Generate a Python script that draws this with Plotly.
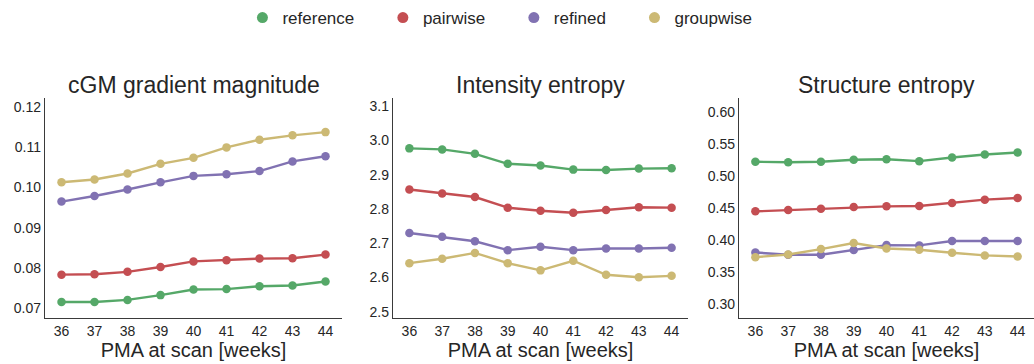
import plotly.graph_objects as go
from plotly.subplots import make_subplots

# PMA at scan (weeks)
weeks = [36, 37, 38, 39, 40, 41, 42, 43, 44]

methods = ["reference", "pairwise", "refined", "groupwise"]
colors = ["#55A868", "#C44E52", "#8172B2", "#CCB974"]

# cGM gradient magnitude
grad_reference = [0.0715, 0.0715, 0.0720, 0.0732, 0.0746, 0.0747, 0.0754, 0.0756, 0.0766]
grad_pairwise = [0.0783, 0.0784, 0.0790, 0.0802, 0.0816, 0.0819, 0.0823, 0.0824, 0.0833]
grad_refined = [0.0965, 0.0979, 0.0995, 0.1013, 0.1029, 0.1033, 0.1041, 0.1065, 0.1078]
grad_groupwise = [0.1013, 0.1020, 0.1035, 0.1059, 0.1074, 0.1100, 0.1119, 0.1130, 0.1138]

# Intensity entropy
int_reference = [2.977, 2.974, 2.961, 2.932, 2.927, 2.915, 2.914, 2.918, 2.919]
int_pairwise = [2.857, 2.845, 2.835, 2.804, 2.795, 2.789, 2.797, 2.805, 2.804]
int_refined = [2.730, 2.719, 2.706, 2.680, 2.690, 2.680, 2.685, 2.685, 2.687]
int_groupwise = [2.642, 2.655, 2.672, 2.642, 2.621, 2.649, 2.608, 2.601, 2.605]

# Structure entropy
str_reference = [0.5228, 0.5222, 0.5228, 0.5259, 0.5269, 0.5238, 0.5295, 0.5342, 0.5374]
str_pairwise = [0.4455, 0.4475, 0.4497, 0.4523, 0.4533, 0.4538, 0.4585, 0.4637, 0.4664]
str_refined = [0.3813, 0.3777, 0.3777, 0.3850, 0.3928, 0.3923, 0.3991, 0.3991, 0.3991]
str_groupwise = [0.3740, 0.3782, 0.3866, 0.3960, 0.3876, 0.3855, 0.3808, 0.3767, 0.3751]

titles = ["cGM gradient magnitude", "Intensity entropy", "Structure entropy"]
panels = [
    [grad_reference, grad_pairwise, grad_refined, grad_groupwise],
    [int_reference, int_pairwise, int_refined, int_groupwise],
    [str_reference, str_pairwise, str_refined, str_groupwise],
]
y_ranges = [[0.0675, 0.1223], [2.482, 3.124], [0.279, 0.6224]]
y_ticks = [
    [0.07, 0.08, 0.09, 0.10, 0.11, 0.12],
    [2.5, 2.6, 2.7, 2.8, 2.9, 3.0, 3.1],
    [0.30, 0.35, 0.40, 0.45, 0.50, 0.55, 0.60],
]
y_formats = [".2f", ".1f", ".2f"]

FONT = "Liberation Sans, Arial, sans-serif"
TXT = "#262626"
PAD = "\u00a0" * 5  # extra room between legend entries

fig = make_subplots(rows=1, cols=3, horizontal_spacing=0.0)

for c, series in enumerate(panels, start=1):
    for name, col, vals in zip(methods, colors, series):
        fig.add_trace(
            go.Scatter(
                x=weeks, y=vals, mode="lines+markers", name=name, legendgroup=name,
                line=dict(color=col, width=2.4),
                marker=dict(color=col, size=8.5),
                showlegend=False,
            ),
            row=1, col=c,
        )

# legend entries: a plain dot per method
for k, (name, col) in enumerate(zip(methods, colors)):
    fig.add_trace(
        go.Scatter(
            x=[None], y=[None], mode="markers", legendgroup=name,
            name=name + (PAD if k < len(methods) - 1 else ""),
            marker=dict(color=col, size=11), showlegend=True,
        ),
        row=1, col=1,
    )

W = 989.0
domains = [[0, 297 / W], [348 / W, 643 / W], [694 / W, 1.0]]

for i in range(3):
    ax = "" if i == 0 else str(i + 1)
    fig.layout["xaxis" + ax].update(
        domain=domains[i], range=[35.5, 44.5], tickmode="array", tickvals=weeks,
        showgrid=False, zeroline=False, showline=True, linecolor="#3a3a3a", linewidth=1.3,
        ticks="", ticklen=0, tickfont=dict(size=14, color=TXT, family=FONT),
        title=dict(text="PMA at scan [weeks]", font=dict(size=20, color=TXT, family=FONT), standoff=4),
    )
    fig.layout["yaxis" + ax].update(
        range=y_ranges[i], tickmode="array", tickvals=y_ticks[i], tickformat=y_formats[i],
        showgrid=False, zeroline=False, showline=True, linecolor="#3a3a3a", linewidth=1.3,
        ticks="", tickfont=dict(size=14, color=TXT, family=FONT),
    )
    mid = (domains[i][0] + domains[i][1]) / 2
    fig.add_annotation(
        text=titles[i], x=mid, y=1.0, xref="paper", yref="paper",
        xanchor="center", yanchor="bottom", yshift=-2, showarrow=False,
        font=dict(size=23, color=TXT, family=FONT),
    )

fig.update_layout(
    width=1034, height=364,
    margin=dict(l=45, r=0, t=98, b=46),
    paper_bgcolor="white", plot_bgcolor="white",
    font=dict(family=FONT, color=TXT),
    legend=dict(
        orientation="h", x=0.46, xanchor="center", y=1.0, yanchor="top",
        yref="container", font=dict(size=17, color=TXT, family=FONT),
        itemwidth=30, tracegroupgap=0,
    ),
)

fig.write_html("out.html")
